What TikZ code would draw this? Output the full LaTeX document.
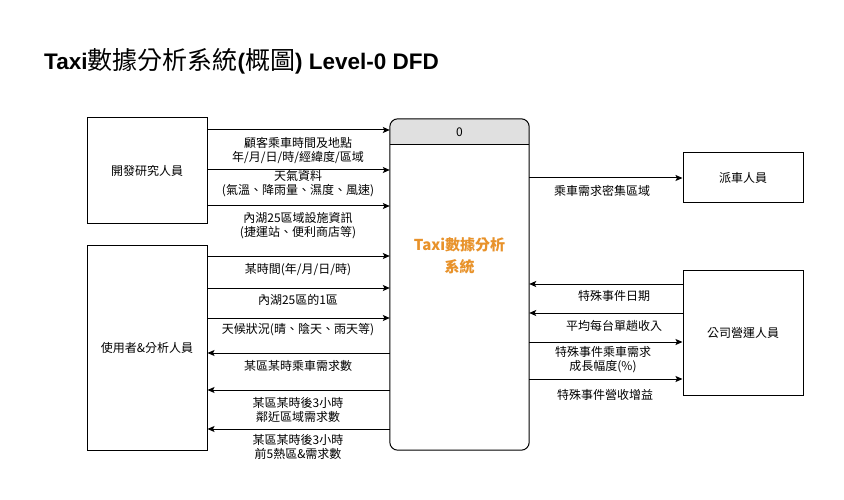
\documentclass[tikz,border=0pt]{standalone}
\usepackage{fontspec}
\setmainfont{Noto Sans CJK TC}
\newfontfamily\latinb{Liberation Sans}
\newfontfamily\cjk{Noto Sans CJK TC}
\usetikzlibrary{arrows.meta}
\definecolor{headfill}{HTML}{E0E0E0}
\definecolor{orangetxt}{HTML}{E8922A}
\tikzset{
  ent/.style={draw=black, line width=1pt, fill=white, inner sep=0pt, font=\fontsize{12}{14}\selectfont},
  flow/.style={draw=black, line width=1pt, -{Stealth[length=7pt,width=6pt,inset=1.5pt]}},
  lbl/.style={font=\fontsize{12}{14}\selectfont, align=center, inner sep=0pt, text=black},
}
\begin{document}
\begin{tikzpicture}[x=1pt,y=-1pt]
\useasboundingbox (0,0) rectangle (844,500);
% title
\node[anchor=west, inner sep=0pt] (title) at (44,61)
  {{\latinb\bfseries\fontsize{22.5}{26}\selectfont Taxi}{\cjk\fontsize{25}{26}\selectfont 數據分析系統}{\latinb\bfseries\fontsize{22.5}{26}\selectfont (}{\cjk\fontsize{25}{26}\selectfont 概圖}{\latinb\bfseries\fontsize{22.5}{26}\selectfont ) Level-0 DFD}};
% entities
\node[ent, minimum width=120, minimum height=105] (dev) at (147,170.5) {開發研究人員};
\node[ent, minimum width=120, minimum height=205] (user) at (147,347.5) {使用者\&分析人員};
\node[ent, minimum width=120, minimum height=50] (disp) at (743,178) {派車人員};
\node[ent, minimum width=120, minimum height=125] (ops) at (743,332.5) {公司營運人員};
% process
\node[inner sep=0pt, minimum width=139, minimum height=331] (proc) at (459.5,284.5) {};
\begin{scope}
  \path[clip, rounded corners=8] (proc.north west) rectangle (proc.south east);
  \fill[white] (proc.north west) rectangle (proc.south east);
  \fill[headfill] (proc.north west) rectangle ([yshift=-26pt]proc.north east);
\end{scope}
\draw[line width=1pt, rounded corners=8] (proc.north west) rectangle (proc.south east);
\draw[line width=1pt] ([yshift=-26pt]proc.north west) -- ([yshift=-26pt]proc.north east);
\node[font=\fontsize{12}{14}\selectfont, inner sep=0pt] (pid) at (459.5,132) {0};
\node[font=\bfseries\fontsize{15}{22}\selectfont, text=orangetxt, align=center, inner sep=0pt] (pname) at (459.5,256) {Taxi數據分析\\系統};
% left flows in
\draw[flow] (dev.east |- 0,130) -- (proc.west |- 0,130);
\node[lbl] (l1) at (298,150) {顧客乘車時間及地點\\年/月/日/時/經緯度/區域};
\draw[flow] (dev.east |- 0,170) -- (proc.west |- 0,170);
\node[lbl] (l2) at (298,184) {天氣資料\\(氣溫、降雨量、濕度、風速)};
\draw[flow] (dev.east |- 0,206) -- (proc.west |- 0,206);
\node[lbl] (l3) at (298,226) {內湖25區域設施資訊\\(捷運站、便利商店等)};
\draw[flow] (user.east |- 0,256) -- (proc.west |- 0,256);
\node[lbl] (l4) at (298,270) {某時間(年/月/日/時)};
\draw[flow] (user.east |- 0,288) -- (proc.west |- 0,288);
\node[lbl] (l5) at (298,300) {內湖25區的1區};
\draw[flow] (user.east |- 0,318) -- (proc.west |- 0,318);
\node[lbl] (l6) at (298,330) {天候狀況(晴、陰天、雨天等)};
% left flows out
\draw[flow] (proc.west |- 0,353) -- (user.east |- 0,353);
\node[lbl] (l7) at (298,366) {某區某時乘車需求數};
\draw[flow] (proc.west |- 0,390) -- (user.east |- 0,390);
\node[lbl] (l8) at (298,410) {某區某時後3小時\\鄰近區域需求數};
\draw[flow] (proc.west |- 0,429) -- (user.east |- 0,429);
\node[lbl] (l9) at (298,447) {某區某時後3小時\\前5熱區\&需求數};
% right flows
\draw[flow] (proc.east |- 0,178) -- (disp.west |- 0,178);
\node[lbl] (r1) at (602,191) {乘車需求密集區域};
\draw[flow] (ops.west |- 0,284) -- (proc.east |- 0,284);
\node[lbl] (r2) at (614,296) {特殊事件日期};
\draw[flow] (ops.west |- 0,313) -- (proc.east |- 0,313);
\node[lbl] (r3) at (614,326) {平均每台單趟收入};
\draw[flow] (proc.east |- 0,342) -- (ops.west |- 0,342);
\node[lbl] (r4) at (603,360) {特殊事件乘車需求\\成長幅度(\%)};
\draw[flow] (proc.east |- 0,379) -- (ops.west |- 0,379);
\node[lbl] (r5) at (605,395) {特殊事件營收增益};
\end{tikzpicture}
\end{document}
